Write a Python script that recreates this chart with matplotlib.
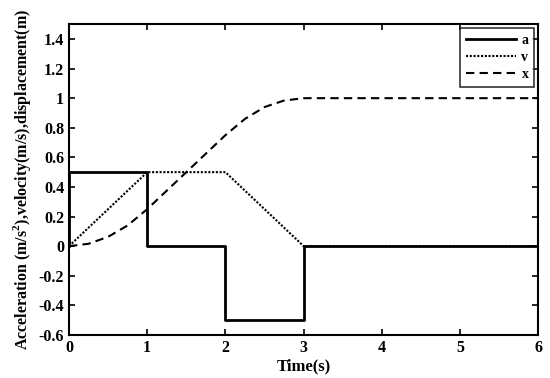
import matplotlib.pyplot as plt

plt.rcParams['font.family'] = ['Liberation Serif', 'DejaVu Serif']
plt.rcParams['font.weight'] = 'bold'
plt.rcParams['mathtext.fontset'] = 'custom'
plt.rcParams['mathtext.rm'] = 'Liberation Serif:bold'

# acceleration (step profile)
t_a = [0, 0, 1, 1, 2, 2, 3, 3, 6]
acc = [0, 0.5, 0.5, 0, 0, -0.5, -0.5, 0, 0]

# velocity (trapezoid)
t_v = [0, 1, 2, 3, 6]
vel = [0, 0.5, 0.5, 0, 0]

# displacement
t_x = [0, 0.25, 0.5, 0.75, 1.0, 1.25, 1.5, 1.75, 2.0, 2.25, 2.5, 2.75, 3.0, 6.0]
disp = [0, 0.016, 0.063, 0.14, 0.25, 0.375, 0.5, 0.625, 0.75, 0.86, 0.94, 0.984, 1.0, 1.0]

xticks = [0, 1, 2, 3, 4, 5, 6]
yticks = [-0.6, -0.4, -0.2, 0, 0.2, 0.4, 0.6, 0.8, 1, 1.2, 1.4]
ylabels = ['-0.6', '-0.4', '-0.2', '0', '0.2', '0.4', '0.6', '0.8', '1', '1.2', '1.4']

fig = plt.figure(figsize=(5.5, 3.78), dpi=100)
ax = fig.add_axes([0.1255, 0.114, 0.853, 0.822])

ax.plot(t_a, acc, color='black', linestyle='-', linewidth=2.0, label='a')
ax.plot(t_v, vel, color='black', linestyle=(0, (1, 0.8)), linewidth=1.5, label='v')
ax.plot(t_x, disp, color='black', linestyle=(0, (4, 2.5)), linewidth=1.5, label='x')

ax.set_xlim(0, 6)
ax.set_ylim(-0.6, 1.5)
ax.set_xticks(xticks)
ax.set_yticks(yticks)
ax.set_yticklabels(ylabels)
ax.tick_params(direction='in', top=True, right=True, labelsize=11.5, length=4, width=1.2)
for s in ax.spines.values():
    s.set_linewidth(1.5)

ax.set_xlabel('Time(s)', fontsize=12, fontweight='bold', labelpad=2)
ax.set_ylabel('Acceleration (m/s$^2$),velocity(m/s),displacement(m)',
              fontsize=11.5, fontweight='bold', labelpad=4)

leg = ax.legend(loc='upper right', fontsize=10, frameon=True, fancybox=False,
                edgecolor='black', handlelength=3.6, borderaxespad=0.3,
                labelspacing=0.3, handletextpad=0.4)
leg.get_frame().set_linewidth(1.2)
for txt in leg.get_texts():
    txt.set_fontweight('bold')

fig.savefig('out.png', dpi=100)
